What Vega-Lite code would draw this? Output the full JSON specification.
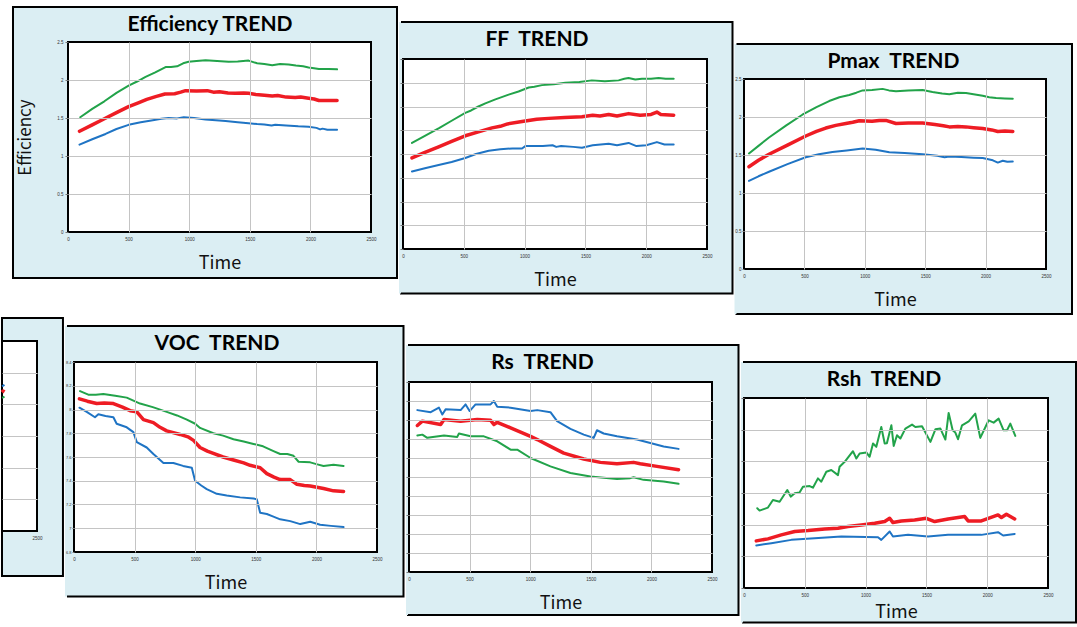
{
"$schema": "https://vega.github.io/schema/vega-lite/v6.json",
"background": "#ffffff",
"padding": 0,
"spacing": 0,
"datasets": {
"eff": [
{"g":"Top","t":101,"v":1.51},{"g":"Top","t":200,"v":1.62},{"g":"Top","t":300,"v":1.72},{"g":"Top","t":400,"v":1.83},{"g":"Top","t":500,"v":1.925},{"g":"Top","t":570,"v":1.98},{"g":"Top","t":640,"v":2.04},{"g":"Top","t":720,"v":2.1},{"g":"Top","t":805,"v":2.17},{"g":"Top","t":850,"v":2.17},{"g":"Top","t":900,"v":2.18},{"g":"Top","t":950,"v":2.22},{"g":"Top","t":995,"v":2.24},{"g":"Top","t":1060,"v":2.25},{"g":"Top","t":1135,"v":2.26},{"g":"Top","t":1230,"v":2.25},{"g":"Top","t":1325,"v":2.24},{"g":"Top","t":1400,"v":2.245},{"g":"Top","t":1490,"v":2.255},{"g":"Top","t":1560,"v":2.22},{"g":"Top","t":1620,"v":2.21},{"g":"Top","t":1685,"v":2.195},{"g":"Top","t":1750,"v":2.21},{"g":"Top","t":1820,"v":2.205},{"g":"Top","t":1880,"v":2.19},{"g":"Top","t":1940,"v":2.18},{"g":"Top","t":1985,"v":2.165},{"g":"Top","t":2030,"v":2.155},{"g":"Top","t":2070,"v":2.145},{"g":"Top","t":2150,"v":2.145},{"g":"Top","t":2220,"v":2.14},
{"g":"Average","t":95,"v":1.325},{"g":"Average","t":200,"v":1.41},{"g":"Average","t":300,"v":1.49},{"g":"Average","t":400,"v":1.57},{"g":"Average","t":500,"v":1.65},{"g":"Average","t":580,"v":1.7},{"g":"Average","t":650,"v":1.745},{"g":"Average","t":730,"v":1.785},{"g":"Average","t":800,"v":1.815},{"g":"Average","t":880,"v":1.82},{"g":"Average","t":930,"v":1.84},{"g":"Average","t":970,"v":1.86},{"g":"Average","t":1060,"v":1.855},{"g":"Average","t":1150,"v":1.86},{"g":"Average","t":1200,"v":1.84},{"g":"Average","t":1250,"v":1.845},{"g":"Average","t":1320,"v":1.83},{"g":"Average","t":1380,"v":1.825},{"g":"Average","t":1450,"v":1.83},{"g":"Average","t":1490,"v":1.825},{"g":"Average","t":1550,"v":1.81},{"g":"Average","t":1620,"v":1.8},{"g":"Average","t":1685,"v":1.79},{"g":"Average","t":1730,"v":1.795},{"g":"Average","t":1800,"v":1.775},{"g":"Average","t":1875,"v":1.77},{"g":"Average","t":1920,"v":1.775},{"g":"Average","t":1985,"v":1.76},{"g":"Average","t":2030,"v":1.75},{"g":"Average","t":2070,"v":1.73},{"g":"Average","t":2150,"v":1.73},{"g":"Average","t":2220,"v":1.73},
{"g":"Bottom","t":95,"v":1.15},{"g":"Bottom","t":200,"v":1.22},{"g":"Bottom","t":310,"v":1.29},{"g":"Bottom","t":400,"v":1.355},{"g":"Bottom","t":500,"v":1.41},{"g":"Bottom","t":600,"v":1.445},{"g":"Bottom","t":700,"v":1.47},{"g":"Bottom","t":770,"v":1.49},{"g":"Bottom","t":830,"v":1.5},{"g":"Bottom","t":900,"v":1.495},{"g":"Bottom","t":955,"v":1.51},{"g":"Bottom","t":1040,"v":1.5},{"g":"Bottom","t":1135,"v":1.48},{"g":"Bottom","t":1220,"v":1.47},{"g":"Bottom","t":1300,"v":1.46},{"g":"Bottom","t":1400,"v":1.445},{"g":"Bottom","t":1490,"v":1.43},{"g":"Bottom","t":1560,"v":1.42},{"g":"Bottom","t":1620,"v":1.415},{"g":"Bottom","t":1680,"v":1.4},{"g":"Bottom","t":1710,"v":1.41},{"g":"Bottom","t":1800,"v":1.4},{"g":"Bottom","t":1900,"v":1.39},{"g":"Bottom","t":1985,"v":1.385},{"g":"Bottom","t":2050,"v":1.37},{"g":"Bottom","t":2080,"v":1.35},{"g":"Bottom","t":2100,"v":1.36},{"g":"Bottom","t":2140,"v":1.345},{"g":"Bottom","t":2220,"v":1.345}
],
"ff": [
{"g":"Top","t":74,"v":73.4},{"g":"Top","t":180,"v":74.3},{"g":"Top","t":300,"v":75.3},{"g":"Top","t":400,"v":76.2},{"g":"Top","t":512,"v":77.2},{"g":"Top","t":560,"v":77.5},{"g":"Top","t":620,"v":78.0},{"g":"Top","t":677,"v":78.4},{"g":"Top","t":760,"v":78.9},{"g":"Top","t":869,"v":79.5},{"g":"Top","t":950,"v":79.9},{"g":"Top","t":1034,"v":80.4},{"g":"Top","t":1080,"v":80.5},{"g":"Top","t":1143,"v":80.7},{"g":"Top","t":1240,"v":80.8},{"g":"Top","t":1335,"v":81.0},{"g":"Top","t":1450,"v":81.1},{"g":"Top","t":1554,"v":81.3},{"g":"Top","t":1660,"v":81.2},{"g":"Top","t":1773,"v":81.3},{"g":"Top","t":1820,"v":81.5},{"g":"Top","t":1855,"v":81.6},{"g":"Top","t":1910,"v":81.4},{"g":"Top","t":1965,"v":81.5},{"g":"Top","t":2040,"v":81.5},{"g":"Top","t":2102,"v":81.6},{"g":"Top","t":2160,"v":81.5},{"g":"Top","t":2226,"v":81.5},
{"g":"Average","t":74,"v":71.5},{"g":"Average","t":180,"v":72.2},{"g":"Average","t":293,"v":72.9},{"g":"Average","t":400,"v":73.6},{"g":"Average","t":512,"v":74.3},{"g":"Average","t":620,"v":74.8},{"g":"Average","t":732,"v":75.3},{"g":"Average","t":800,"v":75.5},{"g":"Average","t":860,"v":75.8},{"g":"Average","t":979,"v":76.1},{"g":"Average","t":1100,"v":76.4},{"g":"Average","t":1198,"v":76.5},{"g":"Average","t":1330,"v":76.6},{"g":"Average","t":1472,"v":76.7},{"g":"Average","t":1560,"v":76.9},{"g":"Average","t":1620,"v":76.8},{"g":"Average","t":1691,"v":77.0},{"g":"Average","t":1760,"v":76.8},{"g":"Average","t":1855,"v":77.1},{"g":"Average","t":1950,"v":76.9},{"g":"Average","t":2040,"v":77.0},{"g":"Average","t":2088,"v":77.3},{"g":"Average","t":2120,"v":77.0},{"g":"Average","t":2226,"v":76.9},
{"g":"Bottom","t":74,"v":69.8},{"g":"Bottom","t":180,"v":70.2},{"g":"Bottom","t":293,"v":70.6},{"g":"Bottom","t":400,"v":71.0},{"g":"Bottom","t":512,"v":71.5},{"g":"Bottom","t":600,"v":72.0},{"g":"Bottom","t":705,"v":72.4},{"g":"Bottom","t":800,"v":72.6},{"g":"Bottom","t":900,"v":72.7},{"g":"Bottom","t":979,"v":72.7},{"g":"Bottom","t":1006,"v":73.0},{"g":"Bottom","t":1150,"v":73.0},{"g":"Bottom","t":1230,"v":73.1},{"g":"Bottom","t":1260,"v":72.9},{"g":"Bottom","t":1300,"v":73.0},{"g":"Bottom","t":1400,"v":72.9},{"g":"Bottom","t":1472,"v":72.8},{"g":"Bottom","t":1560,"v":73.1},{"g":"Bottom","t":1691,"v":73.3},{"g":"Bottom","t":1760,"v":73.1},{"g":"Bottom","t":1855,"v":73.4},{"g":"Bottom","t":1920,"v":73.0},{"g":"Bottom","t":2000,"v":73.1},{"g":"Bottom","t":2088,"v":73.5},{"g":"Bottom","t":2150,"v":73.2},{"g":"Bottom","t":2226,"v":73.2}
],
"pmax": [
{"g":"Top","t":41,"v":1.52},{"g":"Top","t":120,"v":1.62},{"g":"Top","t":207,"v":1.73},{"g":"Top","t":350,"v":1.89},{"g":"Top","t":483,"v":2.03},{"g":"Top","t":600,"v":2.13},{"g":"Top","t":705,"v":2.21},{"g":"Top","t":790,"v":2.26},{"g":"Top","t":871,"v":2.29},{"g":"Top","t":930,"v":2.32},{"g":"Top","t":982,"v":2.35},{"g":"Top","t":1060,"v":2.355},{"g":"Top","t":1147,"v":2.37},{"g":"Top","t":1200,"v":2.35},{"g":"Top","t":1258,"v":2.34},{"g":"Top","t":1360,"v":2.35},{"g":"Top","t":1479,"v":2.355},{"g":"Top","t":1560,"v":2.33},{"g":"Top","t":1640,"v":2.31},{"g":"Top","t":1700,"v":2.3},{"g":"Top","t":1770,"v":2.32},{"g":"Top","t":1838,"v":2.315},{"g":"Top","t":1900,"v":2.3},{"g":"Top","t":1976,"v":2.28},{"g":"Top","t":2030,"v":2.26},{"g":"Top","t":2087,"v":2.25},{"g":"Top","t":2160,"v":2.245},{"g":"Top","t":2225,"v":2.24},
{"g":"Average","t":41,"v":1.346},{"g":"Average","t":120,"v":1.43},{"g":"Average","t":207,"v":1.51},{"g":"Average","t":360,"v":1.63},{"g":"Average","t":511,"v":1.75},{"g":"Average","t":600,"v":1.81},{"g":"Average","t":677,"v":1.855},{"g":"Average","t":760,"v":1.89},{"g":"Average","t":843,"v":1.915},{"g":"Average","t":900,"v":1.93},{"g":"Average","t":954,"v":1.95},{"g":"Average","t":1060,"v":1.945},{"g":"Average","t":1120,"v":1.955},{"g":"Average","t":1175,"v":1.955},{"g":"Average","t":1258,"v":1.915},{"g":"Average","t":1360,"v":1.92},{"g":"Average","t":1479,"v":1.92},{"g":"Average","t":1580,"v":1.9},{"g":"Average","t":1650,"v":1.885},{"g":"Average","t":1700,"v":1.87},{"g":"Average","t":1770,"v":1.875},{"g":"Average","t":1838,"v":1.87},{"g":"Average","t":1900,"v":1.86},{"g":"Average","t":1976,"v":1.85},{"g":"Average","t":2050,"v":1.83},{"g":"Average","t":2101,"v":1.81},{"g":"Average","t":2160,"v":1.815},{"g":"Average","t":2225,"v":1.81},
{"g":"Bottom","t":41,"v":1.16},{"g":"Bottom","t":120,"v":1.22},{"g":"Bottom","t":207,"v":1.28},{"g":"Bottom","t":360,"v":1.38},{"g":"Bottom","t":511,"v":1.47},{"g":"Bottom","t":620,"v":1.51},{"g":"Bottom","t":732,"v":1.54},{"g":"Bottom","t":850,"v":1.56},{"g":"Bottom","t":982,"v":1.585},{"g":"Bottom","t":1090,"v":1.57},{"g":"Bottom","t":1203,"v":1.535},{"g":"Bottom","t":1330,"v":1.525},{"g":"Bottom","t":1479,"v":1.51},{"g":"Bottom","t":1600,"v":1.49},{"g":"Bottom","t":1660,"v":1.47},{"g":"Bottom","t":1700,"v":1.48},{"g":"Bottom","t":1800,"v":1.475},{"g":"Bottom","t":1900,"v":1.465},{"g":"Bottom","t":1976,"v":1.46},{"g":"Bottom","t":2060,"v":1.43},{"g":"Bottom","t":2101,"v":1.4},{"g":"Bottom","t":2142,"v":1.425},{"g":"Bottom","t":2180,"v":1.41},{"g":"Bottom","t":2225,"v":1.415}
],
"voc": [
{"g":"Top","t":50,"v":8.155},{"g":"Top","t":118,"v":8.125},{"g":"Top","t":180,"v":8.125},{"g":"Top","t":242,"v":8.13},{"g":"Top","t":340,"v":8.115},{"g":"Top","t":435,"v":8.1},{"g":"Top","t":545,"v":8.05},{"g":"Top","t":650,"v":8.02},{"g":"Top","t":765,"v":7.98},{"g":"Top","t":850,"v":7.95},{"g":"Top","t":931,"v":7.915},{"g":"Top","t":1000,"v":7.88},{"g":"Top","t":1040,"v":7.845},{"g":"Top","t":1150,"v":7.8},{"g":"Top","t":1230,"v":7.78},{"g":"Top","t":1316,"v":7.75},{"g":"Top","t":1400,"v":7.73},{"g":"Top","t":1481,"v":7.71},{"g":"Top","t":1560,"v":7.69},{"g":"Top","t":1646,"v":7.65},{"g":"Top","t":1701,"v":7.625},{"g":"Top","t":1760,"v":7.625},{"g":"Top","t":1811,"v":7.61},{"g":"Top","t":1853,"v":7.56},{"g":"Top","t":1949,"v":7.555},{"g":"Top","t":2000,"v":7.54},{"g":"Top","t":2059,"v":7.525},{"g":"Top","t":2141,"v":7.535},{"g":"Top","t":2224,"v":7.525},
{"g":"Average","t":45,"v":8.09},{"g":"Average","t":110,"v":8.07},{"g":"Average","t":187,"v":8.05},{"g":"Average","t":250,"v":8.055},{"g":"Average","t":325,"v":8.05},{"g":"Average","t":400,"v":8.02},{"g":"Average","t":463,"v":7.99},{"g":"Average","t":518,"v":7.98},{"g":"Average","t":573,"v":7.915},{"g":"Average","t":655,"v":7.89},{"g":"Average","t":710,"v":7.85},{"g":"Average","t":765,"v":7.82},{"g":"Average","t":876,"v":7.79},{"g":"Average","t":940,"v":7.77},{"g":"Average","t":986,"v":7.74},{"g":"Average","t":1040,"v":7.68},{"g":"Average","t":1100,"v":7.65},{"g":"Average","t":1150,"v":7.63},{"g":"Average","t":1230,"v":7.6},{"g":"Average","t":1316,"v":7.575},{"g":"Average","t":1400,"v":7.55},{"g":"Average","t":1453,"v":7.53},{"g":"Average","t":1536,"v":7.51},{"g":"Average","t":1591,"v":7.46},{"g":"Average","t":1650,"v":7.43},{"g":"Average","t":1701,"v":7.41},{"g":"Average","t":1784,"v":7.41},{"g":"Average","t":1839,"v":7.37},{"g":"Average","t":1900,"v":7.36},{"g":"Average","t":1949,"v":7.355},{"g":"Average","t":2059,"v":7.335},{"g":"Average","t":2141,"v":7.315},{"g":"Average","t":2224,"v":7.31},
{"g":"Bottom","t":45,"v":8.015},{"g":"Bottom","t":105,"v":7.98},{"g":"Bottom","t":173,"v":7.935},{"g":"Bottom","t":201,"v":7.96},{"g":"Bottom","t":260,"v":7.945},{"g":"Bottom","t":325,"v":7.935},{"g":"Bottom","t":352,"v":7.88},{"g":"Bottom","t":435,"v":7.85},{"g":"Bottom","t":490,"v":7.81},{"g":"Bottom","t":518,"v":7.725},{"g":"Bottom","t":600,"v":7.68},{"g":"Bottom","t":655,"v":7.625},{"g":"Bottom","t":738,"v":7.55},{"g":"Bottom","t":820,"v":7.55},{"g":"Bottom","t":900,"v":7.525},{"g":"Bottom","t":972,"v":7.51},{"g":"Bottom","t":999,"v":7.4},{"g":"Bottom","t":1050,"v":7.36},{"g":"Bottom","t":1095,"v":7.33},{"g":"Bottom","t":1178,"v":7.29},{"g":"Bottom","t":1260,"v":7.275},{"g":"Bottom","t":1371,"v":7.26},{"g":"Bottom","t":1481,"v":7.25},{"g":"Bottom","t":1508,"v":7.245},{"g":"Bottom","t":1536,"v":7.13},{"g":"Bottom","t":1591,"v":7.12},{"g":"Bottom","t":1640,"v":7.1},{"g":"Bottom","t":1701,"v":7.075},{"g":"Bottom","t":1784,"v":7.06},{"g":"Bottom","t":1867,"v":7.035},{"g":"Bottom","t":1949,"v":7.055},{"g":"Bottom","t":2031,"v":7.03},{"g":"Bottom","t":2120,"v":7.02},{"g":"Bottom","t":2224,"v":7.01}
],
"rs": [
{"g":"Bottom","t":69,"v":8.52},{"g":"Bottom","t":179,"v":8.41},{"g":"Bottom","t":247,"v":8.65},{"g":"Bottom","t":275,"v":8.29},{"g":"Bottom","t":302,"v":8.56},{"g":"Bottom","t":426,"v":8.52},{"g":"Bottom","t":467,"v":8.82},{"g":"Bottom","t":500,"v":8.47},{"g":"Bottom","t":549,"v":8.82},{"g":"Bottom","t":673,"v":8.82},{"g":"Bottom","t":700,"v":9.0},{"g":"Bottom","t":728,"v":8.7},{"g":"Bottom","t":838,"v":8.65},{"g":"Bottom","t":1003,"v":8.47},{"g":"Bottom","t":1058,"v":8.52},{"g":"Bottom","t":1167,"v":8.41},{"g":"Bottom","t":1222,"v":7.94},{"g":"Bottom","t":1332,"v":7.53},{"g":"Bottom","t":1442,"v":7.23},{"g":"Bottom","t":1524,"v":7.06},{"g":"Bottom","t":1551,"v":7.46},{"g":"Bottom","t":1606,"v":7.29},{"g":"Bottom","t":1716,"v":7.14},{"g":"Bottom","t":1881,"v":6.97},{"g":"Bottom","t":1991,"v":6.79},{"g":"Bottom","t":2101,"v":6.61},{"g":"Bottom","t":2224,"v":6.48},
{"g":"Average","t":69,"v":7.71},{"g":"Average","t":110,"v":7.94},{"g":"Average","t":261,"v":7.76},{"g":"Average","t":289,"v":8.03},{"g":"Average","t":426,"v":7.94},{"g":"Average","t":563,"v":8.03},{"g":"Average","t":673,"v":7.99},{"g":"Average","t":700,"v":7.76},{"g":"Average","t":728,"v":7.88},{"g":"Average","t":838,"v":7.59},{"g":"Average","t":1003,"v":7.14},{"g":"Average","t":1058,"v":6.97},{"g":"Average","t":1167,"v":6.61},{"g":"Average","t":1277,"v":6.26},{"g":"Average","t":1442,"v":5.95},{"g":"Average","t":1579,"v":5.77},{"g":"Average","t":1716,"v":5.7},{"g":"Average","t":1853,"v":5.77},{"g":"Average","t":1908,"v":5.7},{"g":"Average","t":2046,"v":5.56},{"g":"Average","t":2224,"v":5.38},
{"g":"Top","t":69,"v":7.18},{"g":"Top","t":110,"v":7.23},{"g":"Top","t":151,"v":7.06},{"g":"Top","t":289,"v":7.18},{"g":"Top","t":398,"v":7.11},{"g":"Top","t":412,"v":7.29},{"g":"Top","t":508,"v":7.14},{"g":"Top","t":618,"v":7.14},{"g":"Top","t":728,"v":6.88},{"g":"Top","t":838,"v":6.44},{"g":"Top","t":893,"v":6.44},{"g":"Top","t":1003,"v":6.0},{"g":"Top","t":1167,"v":5.56},{"g":"Top","t":1332,"v":5.21},{"g":"Top","t":1497,"v":5.03},{"g":"Top","t":1716,"v":4.89},{"g":"Top","t":1826,"v":4.94},{"g":"Top","t":1853,"v":4.99},{"g":"Top","t":1935,"v":4.85},{"g":"Top","t":2101,"v":4.76},{"g":"Top","t":2224,"v":4.64}
],
"rsh": [
{"g":"Top","t":109,"v":1258},{"g":"Top","t":128,"v":1222},{"g":"Top","t":197,"v":1270},{"g":"Top","t":238,"v":1389},{"g":"Top","t":293,"v":1363},{"g":"Top","t":356,"v":1547},{"g":"Top","t":384,"v":1443},{"g":"Top","t":417,"v":1495},{"g":"Top","t":458,"v":1510},{"g":"Top","t":485,"v":1600},{"g":"Top","t":540,"v":1610},{"g":"Top","t":567,"v":1584},{"g":"Top","t":608,"v":1731},{"g":"Top","t":636,"v":1679},{"g":"Top","t":677,"v":1836},{"g":"Top","t":718,"v":1862},{"g":"Top","t":773,"v":1783},{"g":"Top","t":786,"v":1914},{"g":"Top","t":828,"v":1993},{"g":"Top","t":896,"v":2160},{"g":"Top","t":924,"v":2045},{"g":"Top","t":951,"v":2124},{"g":"Top","t":1006,"v":2140},{"g":"Top","t":1033,"v":2072},{"g":"Top","t":1061,"v":2281},{"g":"Top","t":1088,"v":2229},{"g":"Top","t":1129,"v":2543},{"g":"Top","t":1157,"v":2281},{"g":"Top","t":1175,"v":2285},{"g":"Top","t":1212,"v":2569},{"g":"Top","t":1231,"v":2244},{"g":"Top","t":1258,"v":2412},{"g":"Top","t":1286,"v":2360},{"g":"Top","t":1327,"v":2517},{"g":"Top","t":1382,"v":2580},{"g":"Top","t":1409,"v":2543},{"g":"Top","t":1464,"v":2553},{"g":"Top","t":1533,"v":2307},{"g":"Top","t":1574,"v":2506},{"g":"Top","t":1615,"v":2517},{"g":"Top","t":1656,"v":2344},{"g":"Top","t":1683,"v":2764},{"g":"Top","t":1716,"v":2490},{"g":"Top","t":1738,"v":2454},{"g":"Top","t":1760,"v":2349},{"g":"Top","t":1793,"v":2569},{"g":"Top","t":1848,"v":2632},{"g":"Top","t":1902,"v":2753},{"g":"Top","t":1943,"v":2370},{"g":"Top","t":2012,"v":2648},{"g":"Top","t":2053,"v":2611},{"g":"Top","t":2094,"v":2674},{"g":"Top","t":2135,"v":2490},{"g":"Top","t":2163,"v":2490},{"g":"Top","t":2190,"v":2596},{"g":"Top","t":2231,"v":2401},
{"g":"Average","t":101,"v":744},{"g":"Average","t":197,"v":776},{"g":"Average","t":307,"v":839},{"g":"Average","t":417,"v":892},{"g":"Average","t":527,"v":907},{"g":"Average","t":664,"v":933},{"g":"Average","t":773,"v":944},{"g":"Average","t":855,"v":970},{"g":"Average","t":965,"v":996},{"g":"Average","t":1075,"v":1022},{"g":"Average","t":1157,"v":1049},{"g":"Average","t":1198,"v":1101},{"g":"Average","t":1225,"v":1033},{"g":"Average","t":1294,"v":1059},{"g":"Average","t":1403,"v":1075},{"g":"Average","t":1499,"v":1101},{"g":"Average","t":1568,"v":1049},{"g":"Average","t":1678,"v":1090},{"g":"Average","t":1815,"v":1128},{"g":"Average","t":1843,"v":1059},{"g":"Average","t":1952,"v":1059},{"g":"Average","t":2089,"v":1153},{"g":"Average","t":2117,"v":1112},{"g":"Average","t":2158,"v":1164},{"g":"Average","t":2226,"v":1090},
{"g":"Bottom","t":101,"v":672},{"g":"Bottom","t":225,"v":708},{"g":"Bottom","t":389,"v":760},{"g":"Bottom","t":581,"v":787},{"g":"Bottom","t":800,"v":813},{"g":"Bottom","t":1102,"v":802},{"g":"Bottom","t":1129,"v":760},{"g":"Bottom","t":1198,"v":892},{"g":"Bottom","t":1225,"v":813},{"g":"Bottom","t":1349,"v":839},{"g":"Bottom","t":1513,"v":813},{"g":"Bottom","t":1678,"v":839},{"g":"Bottom","t":1952,"v":839},{"g":"Bottom","t":2089,"v":881},{"g":"Bottom","t":2131,"v":829},{"g":"Bottom","t":2226,"v":854}
],
"part": [
{"g":"Bottom","t":2212,"v":4.57},{"g":"Bottom","t":2222,"v":4.59},{"g":"Bottom","t":2232,"v":4.62},
{"g":"Average","t":2212,"v":4.38},{"g":"Average","t":2222,"v":4.42},{"g":"Average","t":2232,"v":4.39},
{"g":"Top","t":2212,"v":4.21},{"g":"Top","t":2222,"v":4.22},{"g":"Top","t":2232,"v":4.25}
]
},
"vconcat": [
{"spacing": 0, "hconcat": [
 {"width": 9, "height": 1, "data": {"values": []}, "mark": "point"},
 {"spacing": 0, "vconcat": [
  {"width": 1, "height": 6, "data": {"values": []}, "mark": "point"},
  {"width": 303, "height": 190, "title": {"text": "Efficiency TREND", "dx": -9.5},
   "layer": [
    {"data": {"values": [{"part": "card"}]}, "mark": {"type": "rect", "fill": "#dbeef3", "stroke": "#000000", "strokeWidth": 2},
     "encoding": {"x": {"datum": -453.8, "type": "quantitative", "scale": {"domain": [0, 2500], "nice": false, "zero": false}, "title": "Time", "axis": {"zindex": 1, "values": [0, 500, 1000, 1500, 2000, 2500], "format": "~r", "labelOverlap": false, "gridColor": {"condition": {"test": "datum.value==0||datum.value==2500", "value": "transparent"}, "value": "#c4c4c4"}}}, "x2": {"datum": 2714.5},
      "y": {"datum": 2.9605, "type": "quantitative", "scale": {"domain": [0, 2.5], "nice": false, "zero": false}, "title": "Efficiency", "axis": {"zindex": 1, "values": [0, 0.5, 1, 1.5, 2, 2.5], "format": "~r", "labelOverlap": false, "titleFontSize": 17, "titlePadding": 22, "gridColor": {"condition": {"test": "datum.value==0||datum.value==2.5", "value": "transparent"}, "value": "#c4c4c4"}}}, "y2": {"datum": -0.6053}}},
    {"data": {"values": [{"part": "plot"}]}, "mark": {"type": "rect", "fill": "#ffffff", "stroke": "#000000", "strokeWidth": 2},
     "encoding": {"x": {"datum": 0, "type": "quantitative", "scale": {"domain": [0, 2500], "nice": false, "zero": false}, "title": "Time", "axis": {"zindex": 1, "values": [0, 500, 1000, 1500, 2000, 2500], "format": "~r", "labelOverlap": false, "gridColor": {"condition": {"test": "datum.value==0||datum.value==2500", "value": "transparent"}, "value": "#c4c4c4"}}}, "x2": {"datum": 2500},
      "y": {"datum": 2.5, "type": "quantitative", "scale": {"domain": [0, 2.5], "nice": false, "zero": false}, "title": "Efficiency", "axis": {"zindex": 1, "values": [0, 0.5, 1, 1.5, 2, 2.5], "format": "~r", "labelOverlap": false, "titleFontSize": 17, "titlePadding": 22, "gridColor": {"condition": {"test": "datum.value==0||datum.value==2.5", "value": "transparent"}, "value": "#c4c4c4"}}}, "y2": {"datum": 0}}},
    {"data": {"name": "eff"}, "mark": {"type": "line"},
     "encoding": {
      "x": {"field": "t", "type": "quantitative", "scale": {"domain": [0, 2500], "nice": false, "zero": false}, "title": "Time", "axis": {"zindex": 1, "values": [0, 500, 1000, 1500, 2000, 2500], "format": "~r", "labelOverlap": false, "gridColor": {"condition": {"test": "datum.value==0||datum.value==2500", "value": "transparent"}, "value": "#c4c4c4"}}},
      "y": {"field": "v", "type": "quantitative", "scale": {"domain": [0, 2.5], "nice": false, "zero": false}, "title": "Efficiency", "axis": {"zindex": 1, "values": [0, 0.5, 1, 1.5, 2, 2.5], "format": "~r", "labelOverlap": false, "titleFontSize": 17, "titlePadding": 22, "gridColor": {"condition": {"test": "datum.value==0||datum.value==2.5", "value": "transparent"}, "value": "#c4c4c4"}}},
      "color": {"field": "g", "type": "nominal", "scale": {"domain": ["Top", "Average", "Bottom"], "range": ["#22a34a", "#ee1c24", "#1f74c4"]}, "legend": null},
      "strokeWidth": {"field": "g", "type": "nominal", "scale": {"type": "ordinal", "domain": ["Top", "Average", "Bottom"], "range": [2, 3.5, 2]}, "legend": null}}}
   ]}
 ]},
 {"spacing": 0, "vconcat": [
  {"width": 1, "height": 20, "data": {"values": []}, "mark": "point"},
  {"width": 304, "height": 190, "title": {"text": "FF\u00a0 TREND", "dx": -18},
   "layer": [
    {"data": {"values": [{"part": "card"}]}, "mark": {"type": "rect", "fill": "#dbeef3"},
     "encoding": {"x": {"datum": -32.9, "type": "quantitative", "scale": {"domain": [0, 2500], "nice": false, "zero": false}, "title": "Time", "axis": {"zindex": 1, "values": [0, 500, 1000, 1500, 2000, 2500], "format": "~r", "labelOverlap": false, "gridColor": {"condition": {"test": "datum.value==0||datum.value==2500", "value": "transparent"}, "value": "#c4c4c4"}}}, "x2": {"datum": 2709.7},
      "y": {"datum": 88.674, "type": "quantitative", "scale": {"domain": [60, 84], "nice": false, "zero": false}, "title": null, "axis": {"zindex": 1, "values": [60, 63, 66, 69, 72, 75, 78, 81, 84], "labels": false, "gridColor": {"condition": {"test": "datum.value==60||datum.value==84", "value": "transparent"}, "value": "#c4c4c4"}}}, "y2": {"datum": 54.379}}},
    {"data": {"values": [{"part": "border"}]}, "mark": {"type": "rect", "fill": null, "stroke": "#000000", "strokeWidth": 2, "strokeDash": [934.5, 400]},
     "encoding": {"x": {"datum": -16.4, "type": "quantitative", "scale": {"domain": [0, 2500], "nice": false, "zero": false}, "title": "Time", "axis": {"zindex": 1, "values": [0, 500, 1000, 1500, 2000, 2500], "format": "~r", "labelOverlap": false, "gridColor": {"condition": {"test": "datum.value==0||datum.value==2500", "value": "transparent"}, "value": "#c4c4c4"}}}, "x2": {"datum": 2709.7},
      "y": {"datum": 88.674, "type": "quantitative", "scale": {"domain": [60, 84], "nice": false, "zero": false}, "title": null, "axis": {"zindex": 1, "values": [60, 63, 66, 69, 72, 75, 78, 81, 84], "labels": false, "gridColor": {"condition": {"test": "datum.value==60||datum.value==84", "value": "transparent"}, "value": "#c4c4c4"}}}, "y2": {"datum": 54.379}}},
    {"data": {"values": [{"part": "plot"}]}, "mark": {"type": "rect", "fill": "#ffffff", "stroke": "#000000", "strokeWidth": 2},
     "encoding": {"x": {"datum": 0, "type": "quantitative", "scale": {"domain": [0, 2500], "nice": false, "zero": false}, "title": "Time", "axis": {"zindex": 1, "values": [0, 500, 1000, 1500, 2000, 2500], "format": "~r", "labelOverlap": false, "gridColor": {"condition": {"test": "datum.value==0||datum.value==2500", "value": "transparent"}, "value": "#c4c4c4"}}}, "x2": {"datum": 2500},
      "y": {"datum": 84, "type": "quantitative", "scale": {"domain": [60, 84], "nice": false, "zero": false}, "title": null, "axis": {"zindex": 1, "values": [60, 63, 66, 69, 72, 75, 78, 81, 84], "labels": false, "gridColor": {"condition": {"test": "datum.value==60||datum.value==84", "value": "transparent"}, "value": "#c4c4c4"}}}, "y2": {"datum": 60}}},
    {"data": {"name": "ff"}, "mark": {"type": "line"},
     "encoding": {
      "x": {"field": "t", "type": "quantitative", "scale": {"domain": [0, 2500], "nice": false, "zero": false}, "title": "Time", "axis": {"zindex": 1, "values": [0, 500, 1000, 1500, 2000, 2500], "format": "~r", "labelOverlap": false, "gridColor": {"condition": {"test": "datum.value==0||datum.value==2500", "value": "transparent"}, "value": "#c4c4c4"}}},
      "y": {"field": "v", "type": "quantitative", "scale": {"domain": [60, 84], "nice": false, "zero": false}, "title": null, "axis": {"zindex": 1, "values": [60, 63, 66, 69, 72, 75, 78, 81, 84], "labels": false, "gridColor": {"condition": {"test": "datum.value==60||datum.value==84", "value": "transparent"}, "value": "#c4c4c4"}}},
      "color": {"field": "g", "type": "nominal", "scale": {"domain": ["Top", "Average", "Bottom"], "range": ["#22a34a", "#ee1c24", "#1f74c4"]}, "legend": null},
      "strokeWidth": {"field": "g", "type": "nominal", "scale": {"type": "ordinal", "domain": ["Top", "Average", "Bottom"], "range": [2, 3.5, 2]}, "legend": null}}}
   ]}
 ]},
 {"spacing": 0, "vconcat": [
  {"width": 1, "height": 43, "data": {"values": []}, "mark": "point"},
  {"width": 302, "height": 190, "title": {"text": "Pmax\u00a0 TREND", "dx": -1.5},
   "layer": [
    {"data": {"values": [{"part": "card"}]}, "mark": {"type": "rect", "fill": "#dbeef3"},
     "encoding": {"x": {"datum": -78.6, "type": "quantitative", "scale": {"domain": [0, 2500], "nice": false, "zero": false}, "title": "Time", "axis": {"zindex": 1, "values": [0, 500, 1000, 1500, 2000, 2500], "format": "~r", "labelOverlap": false, "gridColor": {"condition": {"test": "datum.value==0||datum.value==2500", "value": "transparent"}, "value": "#c4c4c4"}}}, "x2": {"datum": 2715.2},
      "y": {"datum": 2.9605, "type": "quantitative", "scale": {"domain": [0, 2.5], "nice": false, "zero": false}, "title": null, "axis": {"zindex": 1, "values": [0, 0.5, 1, 1.5, 2, 2.5], "format": "~r", "labelOverlap": false, "tickSize": 2, "labelPadding": 1, "gridColor": {"condition": {"test": "datum.value==0||datum.value==2.5", "value": "transparent"}, "value": "#c4c4c4"}}}, "y2": {"datum": -0.5921}}},
    {"data": {"values": [{"part": "border"}]}, "mark": {"type": "rect", "fill": null, "stroke": "#000000", "strokeWidth": 2, "strokeDash": [941, 400]},
     "encoding": {"x": {"datum": -62.1, "type": "quantitative", "scale": {"domain": [0, 2500], "nice": false, "zero": false}, "title": "Time", "axis": {"zindex": 1, "values": [0, 500, 1000, 1500, 2000, 2500], "format": "~r", "labelOverlap": false, "gridColor": {"condition": {"test": "datum.value==0||datum.value==2500", "value": "transparent"}, "value": "#c4c4c4"}}}, "x2": {"datum": 2715.2},
      "y": {"datum": 2.9605, "type": "quantitative", "scale": {"domain": [0, 2.5], "nice": false, "zero": false}, "title": null, "axis": {"zindex": 1, "values": [0, 0.5, 1, 1.5, 2, 2.5], "format": "~r", "labelOverlap": false, "tickSize": 2, "labelPadding": 1, "gridColor": {"condition": {"test": "datum.value==0||datum.value==2.5", "value": "transparent"}, "value": "#c4c4c4"}}}, "y2": {"datum": -0.5921}}},
    {"data": {"values": [{"part": "plot"}]}, "mark": {"type": "rect", "fill": "#ffffff", "stroke": "#000000", "strokeWidth": 2},
     "encoding": {"x": {"datum": 0, "type": "quantitative", "scale": {"domain": [0, 2500], "nice": false, "zero": false}, "title": "Time", "axis": {"zindex": 1, "values": [0, 500, 1000, 1500, 2000, 2500], "format": "~r", "labelOverlap": false, "gridColor": {"condition": {"test": "datum.value==0||datum.value==2500", "value": "transparent"}, "value": "#c4c4c4"}}}, "x2": {"datum": 2500},
      "y": {"datum": 2.5, "type": "quantitative", "scale": {"domain": [0, 2.5], "nice": false, "zero": false}, "title": null, "axis": {"zindex": 1, "values": [0, 0.5, 1, 1.5, 2, 2.5], "format": "~r", "labelOverlap": false, "tickSize": 2, "labelPadding": 1, "gridColor": {"condition": {"test": "datum.value==0||datum.value==2.5", "value": "transparent"}, "value": "#c4c4c4"}}}, "y2": {"datum": 0}}},
    {"data": {"name": "pmax"}, "mark": {"type": "line"},
     "encoding": {
      "x": {"field": "t", "type": "quantitative", "scale": {"domain": [0, 2500], "nice": false, "zero": false}, "title": "Time", "axis": {"zindex": 1, "values": [0, 500, 1000, 1500, 2000, 2500], "format": "~r", "labelOverlap": false, "gridColor": {"condition": {"test": "datum.value==0||datum.value==2500", "value": "transparent"}, "value": "#c4c4c4"}}},
      "y": {"field": "v", "type": "quantitative", "scale": {"domain": [0, 2.5], "nice": false, "zero": false}, "title": null, "axis": {"zindex": 1, "values": [0, 0.5, 1, 1.5, 2, 2.5], "format": "~r", "labelOverlap": false, "tickSize": 2, "labelPadding": 1, "gridColor": {"condition": {"test": "datum.value==0||datum.value==2.5", "value": "transparent"}, "value": "#c4c4c4"}}},
      "color": {"field": "g", "type": "nominal", "scale": {"domain": ["Top", "Average", "Bottom"], "range": ["#22a34a", "#ee1c24", "#1f74c4"]}, "legend": null},
      "strokeWidth": {"field": "g", "type": "nominal", "scale": {"type": "ordinal", "domain": ["Top", "Average", "Bottom"], "range": [2, 3.5, 2]}, "legend": null}}}
   ]}
 ]}
]},
{"spacing": 0, "hconcat": [
 {"spacing": 0, "vconcat": [
 {"width": 1, "height": 1, "data": {"values": []}, "mark": "point"},
 {"width": 35, "height": 190,
  "layer": [
   {"data": {"values": [{"part": "card"}]}, "mark": {"type": "rect", "fill": "#dbeef3", "stroke": "#000000", "strokeWidth": 2},
    "encoding": {"x": {"datum": 2212, "type": "quantitative", "scale": {"domain": [2212, 2500], "nice": false, "zero": false}, "title": null, "axis": {"zindex": 1, "values": [2500], "format": "~r", "gridColor": "transparent"}}, "x2": {"datum": 2713.6},
     "y": {"datum": 6.727, "type": "quantitative", "scale": {"domain": [0, 6], "nice": false, "zero": false}, "title": null, "axis": {"zindex": 1, "values": [0, 1, 2, 3, 4, 5, 6], "labels": false, "ticks": false, "gridColor": {"condition": {"test": "datum.value==0||datum.value==6", "value": "transparent"}, "value": "#c4c4c4"}}}, "y2": {"datum": -1.421}}},
   {"data": {"values": [{"part": "plot"}]}, "mark": {"type": "rect", "fill": "#ffffff", "stroke": "#000000", "strokeWidth": 2},
    "encoding": {"x": {"datum": 2212, "type": "quantitative", "scale": {"domain": [2212, 2500], "nice": false, "zero": false}, "title": null, "axis": {"zindex": 1, "values": [2500], "format": "~r", "gridColor": "transparent"}}, "x2": {"datum": 2500},
     "y": {"datum": 6, "type": "quantitative", "scale": {"domain": [0, 6], "nice": false, "zero": false}, "title": null, "axis": {"zindex": 1, "values": [0, 1, 2, 3, 4, 5, 6], "labels": false, "ticks": false, "gridColor": {"condition": {"test": "datum.value==0||datum.value==6", "value": "transparent"}, "value": "#c4c4c4"}}}, "y2": {"datum": 0}}},
   {"data": {"name": "part"}, "mark": {"type": "line", "strokeCap": "butt"},
    "encoding": {
     "x": {"field": "t", "type": "quantitative", "scale": {"domain": [2212, 2500], "nice": false, "zero": false}, "title": null, "axis": {"zindex": 1, "values": [2500], "format": "~r", "gridColor": "transparent"}},
     "y": {"field": "v", "type": "quantitative", "scale": {"domain": [0, 6], "nice": false, "zero": false}, "title": null, "axis": {"zindex": 1, "values": [0, 1, 2, 3, 4, 5, 6], "labels": false, "ticks": false, "gridColor": {"condition": {"test": "datum.value==0||datum.value==6", "value": "transparent"}, "value": "#c4c4c4"}}},
     "color": {"field": "g", "type": "nominal", "scale": {"domain": ["Top", "Average", "Bottom"], "range": ["#22a34a", "#ee1c24", "#1f74c4"]}, "legend": null},
     "strokeWidth": {"field": "g", "type": "nominal", "scale": {"type": "ordinal", "domain": ["Top", "Average", "Bottom"], "range": [2, 3.5, 2]}, "legend": null}}}
  ]}
 ]},
 {"spacing": 0, "vconcat": [
  {"width": 1, "height": 9, "data": {"values": []}, "mark": "point"},
  {"width": 303, "height": 190, "title": {"text": "VOC\u00a0 TREND", "dx": -8.5},
   "layer": [
    {"data": {"values": [{"part": "card"}]}, "mark": {"type": "rect", "fill": "#dbeef3"},
     "encoding": {"x": {"datum": -74.3, "type": "quantitative", "scale": {"domain": [0, 2500], "nice": false, "zero": false}, "title": "Time", "axis": {"zindex": 1, "values": [0, 500, 1000, 1500, 2000, 2500], "format": "~r", "labelOverlap": false, "gridColor": {"condition": {"test": "datum.value==0||datum.value==2500", "value": "transparent"}, "value": "#c4c4c4"}}}, "x2": {"datum": 2718.6},
      "y": {"datum": 8.7032, "type": "quantitative", "scale": {"domain": [6.8, 8.4], "nice": false, "zero": false}, "title": null, "axis": {"zindex": 1, "values": [6.8, 7, 7.2, 7.4, 7.6, 7.8, 8, 8.2, 8.4], "format": "~r", "labelOverlap": false, "labelFontSize": 4, "tickSize": 2, "labelPadding": 1, "gridColor": {"condition": {"test": "datum.value==6.8||datum.value==8.4", "value": "transparent"}, "value": "#c4c4c4"}}}, "y2": {"datum": 6.4253}}},
    {"data": {"values": [{"part": "border"}]}, "mark": {"type": "rect", "fill": null, "stroke": "#000000", "strokeWidth": 2, "strokeDash": [943.5, 400]},
     "encoding": {"x": {"datum": -57.8, "type": "quantitative", "scale": {"domain": [0, 2500], "nice": false, "zero": false}, "title": "Time", "axis": {"zindex": 1, "values": [0, 500, 1000, 1500, 2000, 2500], "format": "~r", "labelOverlap": false, "gridColor": {"condition": {"test": "datum.value==0||datum.value==2500", "value": "transparent"}, "value": "#c4c4c4"}}}, "x2": {"datum": 2718.6},
      "y": {"datum": 8.7032, "type": "quantitative", "scale": {"domain": [6.8, 8.4], "nice": false, "zero": false}, "title": null, "axis": {"zindex": 1, "values": [6.8, 7, 7.2, 7.4, 7.6, 7.8, 8, 8.2, 8.4], "format": "~r", "labelOverlap": false, "labelFontSize": 4, "tickSize": 2, "labelPadding": 1, "gridColor": {"condition": {"test": "datum.value==6.8||datum.value==8.4", "value": "transparent"}, "value": "#c4c4c4"}}}, "y2": {"datum": 6.4253}}},
    {"data": {"values": [{"part": "plot"}]}, "mark": {"type": "rect", "fill": "#ffffff", "stroke": "#000000", "strokeWidth": 2},
     "encoding": {"x": {"datum": 0, "type": "quantitative", "scale": {"domain": [0, 2500], "nice": false, "zero": false}, "title": "Time", "axis": {"zindex": 1, "values": [0, 500, 1000, 1500, 2000, 2500], "format": "~r", "labelOverlap": false, "gridColor": {"condition": {"test": "datum.value==0||datum.value==2500", "value": "transparent"}, "value": "#c4c4c4"}}}, "x2": {"datum": 2500},
      "y": {"datum": 8.4, "type": "quantitative", "scale": {"domain": [6.8, 8.4], "nice": false, "zero": false}, "title": null, "axis": {"zindex": 1, "values": [6.8, 7, 7.2, 7.4, 7.6, 7.8, 8, 8.2, 8.4], "format": "~r", "labelOverlap": false, "labelFontSize": 4, "tickSize": 2, "labelPadding": 1, "gridColor": {"condition": {"test": "datum.value==6.8||datum.value==8.4", "value": "transparent"}, "value": "#c4c4c4"}}}, "y2": {"datum": 6.8}}},
    {"data": {"name": "voc"}, "mark": {"type": "line"},
     "encoding": {
      "x": {"field": "t", "type": "quantitative", "scale": {"domain": [0, 2500], "nice": false, "zero": false}, "title": "Time", "axis": {"zindex": 1, "values": [0, 500, 1000, 1500, 2000, 2500], "format": "~r", "labelOverlap": false, "gridColor": {"condition": {"test": "datum.value==0||datum.value==2500", "value": "transparent"}, "value": "#c4c4c4"}}},
      "y": {"field": "v", "type": "quantitative", "scale": {"domain": [6.8, 8.4], "nice": false, "zero": false}, "title": null, "axis": {"zindex": 1, "values": [6.8, 7, 7.2, 7.4, 7.6, 7.8, 8, 8.2, 8.4], "format": "~r", "labelOverlap": false, "labelFontSize": 4, "tickSize": 2, "labelPadding": 1, "gridColor": {"condition": {"test": "datum.value==6.8||datum.value==8.4", "value": "transparent"}, "value": "#c4c4c4"}}},
      "color": {"field": "g", "type": "nominal", "scale": {"domain": ["Top", "Average", "Bottom"], "range": ["#22a34a", "#ee1c24", "#1f74c4"]}, "legend": null},
      "strokeWidth": {"field": "g", "type": "nominal", "scale": {"type": "ordinal", "domain": ["Top", "Average", "Bottom"], "range": [2, 3.5, 2]}, "legend": null}}}
   ]}
 ]},
 {"spacing": 0, "vconcat": [
  {"width": 1, "height": 29, "data": {"values": []}, "mark": "point"},
  {"width": 303, "height": 190, "title": {"text": "Rs\u00a0 TREND", "dx": -18},
   "layer": [
    {"data": {"values": [{"part": "card"}]}, "mark": {"type": "rect", "fill": "#dbeef3"},
     "encoding": {"x": {"datum": -24.75, "type": "quantitative", "scale": {"domain": [0, 2500], "nice": false, "zero": false}, "title": "Time", "axis": {"zindex": 1, "values": [0, 500, 1000, 1500, 2000, 2500], "format": "~r", "labelOverlap": false, "gridColor": {"condition": {"test": "datum.value==0||datum.value==2500", "value": "transparent"}, "value": "#c4c4c4"}}}, "x2": {"datum": 2718.6},
      "y": {"datum": 11.947, "type": "quantitative", "scale": {"domain": [0, 10], "nice": false, "zero": false}, "title": null, "axis": {"zindex": 1, "values": [0, 1, 2, 3, 4, 5, 6, 7, 8, 9, 10], "labels": false, "gridColor": {"condition": {"test": "datum.value==0||datum.value==10", "value": "transparent"}, "value": "#c4c4c4"}}}, "y2": {"datum": -2.263}}},
    {"data": {"values": [{"part": "border"}]}, "mark": {"type": "rect", "fill": null, "stroke": "#000000", "strokeWidth": 2, "strokeDash": [931, 400]},
     "encoding": {"x": {"datum": -8.25, "type": "quantitative", "scale": {"domain": [0, 2500], "nice": false, "zero": false}, "title": "Time", "axis": {"zindex": 1, "values": [0, 500, 1000, 1500, 2000, 2500], "format": "~r", "labelOverlap": false, "gridColor": {"condition": {"test": "datum.value==0||datum.value==2500", "value": "transparent"}, "value": "#c4c4c4"}}}, "x2": {"datum": 2718.6},
      "y": {"datum": 11.947, "type": "quantitative", "scale": {"domain": [0, 10], "nice": false, "zero": false}, "title": null, "axis": {"zindex": 1, "values": [0, 1, 2, 3, 4, 5, 6, 7, 8, 9, 10], "labels": false, "gridColor": {"condition": {"test": "datum.value==0||datum.value==10", "value": "transparent"}, "value": "#c4c4c4"}}}, "y2": {"datum": -2.263}}},
    {"data": {"values": [{"part": "plot"}]}, "mark": {"type": "rect", "fill": "#ffffff", "stroke": "#000000", "strokeWidth": 2},
     "encoding": {"x": {"datum": 0, "type": "quantitative", "scale": {"domain": [0, 2500], "nice": false, "zero": false}, "title": "Time", "axis": {"zindex": 1, "values": [0, 500, 1000, 1500, 2000, 2500], "format": "~r", "labelOverlap": false, "gridColor": {"condition": {"test": "datum.value==0||datum.value==2500", "value": "transparent"}, "value": "#c4c4c4"}}}, "x2": {"datum": 2500},
      "y": {"datum": 10, "type": "quantitative", "scale": {"domain": [0, 10], "nice": false, "zero": false}, "title": null, "axis": {"zindex": 1, "values": [0, 1, 2, 3, 4, 5, 6, 7, 8, 9, 10], "labels": false, "gridColor": {"condition": {"test": "datum.value==0||datum.value==10", "value": "transparent"}, "value": "#c4c4c4"}}}, "y2": {"datum": 0}}},
    {"data": {"name": "rs"}, "mark": {"type": "line"},
     "encoding": {
      "x": {"field": "t", "type": "quantitative", "scale": {"domain": [0, 2500], "nice": false, "zero": false}, "title": "Time", "axis": {"zindex": 1, "values": [0, 500, 1000, 1500, 2000, 2500], "format": "~r", "labelOverlap": false, "gridColor": {"condition": {"test": "datum.value==0||datum.value==2500", "value": "transparent"}, "value": "#c4c4c4"}}},
      "y": {"field": "v", "type": "quantitative", "scale": {"domain": [0, 10], "nice": false, "zero": false}, "title": null, "axis": {"zindex": 1, "values": [0, 1, 2, 3, 4, 5, 6, 7, 8, 9, 10], "labels": false, "gridColor": {"condition": {"test": "datum.value==0||datum.value==10", "value": "transparent"}, "value": "#c4c4c4"}}},
      "color": {"field": "g", "type": "nominal", "scale": {"domain": ["Top", "Average", "Bottom"], "range": ["#22a34a", "#ee1c24", "#1f74c4"]}, "legend": null},
      "strokeWidth": {"field": "g", "type": "nominal", "scale": {"type": "ordinal", "domain": ["Top", "Average", "Bottom"], "range": [2, 3.5, 2]}, "legend": null}}}
   ]}
 ]},
 {"spacing": 0, "vconcat": [
  {"width": 1, "height": 46, "data": {"values": []}, "mark": "point"},
  {"width": 304, "height": 190, "title": {"text": "Rsh\u00a0 TREND", "dx": -12},
   "layer": [
    {"data": {"values": [{"part": "card"}]}, "mark": {"type": "rect", "fill": "#dbeef3"},
     "encoding": {"x": {"datum": -24.7, "type": "quantitative", "scale": {"domain": [0, 2500], "nice": false, "zero": false}, "title": "Time", "axis": {"zindex": 1, "values": [0, 500, 1000, 1500, 2000, 2500], "format": "~r", "labelOverlap": false, "titlePadding": 7, "gridColor": {"condition": {"test": "datum.value==0||datum.value==2500", "value": "transparent"}, "value": "#c4c4c4"}}}, "x2": {"datum": 2730.3},
      "y": {"datum": 3568.4, "type": "quantitative", "scale": {"domain": [0, 3000], "nice": false, "zero": false}, "title": null, "axis": {"zindex": 1, "values": [0, 500, 1000, 1500, 2000, 2500, 3000], "labels": false, "gridColor": {"condition": {"test": "datum.value==0||datum.value==3000", "value": "transparent"}, "value": "#c4c4c4"}}}, "y2": {"datum": -544.7}}},
    {"data": {"values": [{"part": "border"}]}, "mark": {"type": "rect", "fill": null, "stroke": "#000000", "strokeWidth": 2, "strokeDash": [926.5, 400]},
     "encoding": {"x": {"datum": -8.2, "type": "quantitative", "scale": {"domain": [0, 2500], "nice": false, "zero": false}, "title": "Time", "axis": {"zindex": 1, "values": [0, 500, 1000, 1500, 2000, 2500], "format": "~r", "labelOverlap": false, "titlePadding": 7, "gridColor": {"condition": {"test": "datum.value==0||datum.value==2500", "value": "transparent"}, "value": "#c4c4c4"}}}, "x2": {"datum": 2730.3},
      "y": {"datum": 3568.4, "type": "quantitative", "scale": {"domain": [0, 3000], "nice": false, "zero": false}, "title": null, "axis": {"zindex": 1, "values": [0, 500, 1000, 1500, 2000, 2500, 3000], "labels": false, "gridColor": {"condition": {"test": "datum.value==0||datum.value==3000", "value": "transparent"}, "value": "#c4c4c4"}}}, "y2": {"datum": -544.7}}},
    {"data": {"values": [{"part": "plot"}]}, "mark": {"type": "rect", "fill": "#ffffff", "stroke": "#000000", "strokeWidth": 2},
     "encoding": {"x": {"datum": 0, "type": "quantitative", "scale": {"domain": [0, 2500], "nice": false, "zero": false}, "title": "Time", "axis": {"zindex": 1, "values": [0, 500, 1000, 1500, 2000, 2500], "format": "~r", "labelOverlap": false, "titlePadding": 7, "gridColor": {"condition": {"test": "datum.value==0||datum.value==2500", "value": "transparent"}, "value": "#c4c4c4"}}}, "x2": {"datum": 2500},
      "y": {"datum": 3000, "type": "quantitative", "scale": {"domain": [0, 3000], "nice": false, "zero": false}, "title": null, "axis": {"zindex": 1, "values": [0, 500, 1000, 1500, 2000, 2500, 3000], "labels": false, "gridColor": {"condition": {"test": "datum.value==0||datum.value==3000", "value": "transparent"}, "value": "#c4c4c4"}}}, "y2": {"datum": 0}}},
    {"data": {"name": "rsh"}, "mark": {"type": "line"},
     "encoding": {
      "x": {"field": "t", "type": "quantitative", "scale": {"domain": [0, 2500], "nice": false, "zero": false}, "title": "Time", "axis": {"zindex": 1, "values": [0, 500, 1000, 1500, 2000, 2500], "format": "~r", "labelOverlap": false, "titlePadding": 7, "gridColor": {"condition": {"test": "datum.value==0||datum.value==2500", "value": "transparent"}, "value": "#c4c4c4"}}},
      "y": {"field": "v", "type": "quantitative", "scale": {"domain": [0, 3000], "nice": false, "zero": false}, "title": null, "axis": {"zindex": 1, "values": [0, 500, 1000, 1500, 2000, 2500, 3000], "labels": false, "gridColor": {"condition": {"test": "datum.value==0||datum.value==3000", "value": "transparent"}, "value": "#c4c4c4"}}},
      "color": {"field": "g", "type": "nominal", "scale": {"domain": ["Top", "Average", "Bottom"], "range": ["#22a34a", "#ee1c24", "#1f74c4"]}, "legend": null},
      "strokeWidth": {"field": "g", "type": "nominal", "scale": {"type": "ordinal", "domain": ["Top", "Average", "Bottom"], "range": [2, 3.5, 2]}, "legend": null}}}
   ]}
 ]}
]}
],
"config": {
 "view": {"stroke": null, "fill": null},
 "font": "Liberation Sans",
 "axis": {"domain": false, "grid": true, "gridColor": "#c4c4c4", "gridWidth": 1, "labelFont": "Liberation Sans", "labelFontSize": 4.5, "labelColor": "#333333", "labelFlush": false, "titleFont": "Noto Sans CJK KR", "titleFontSize": 18, "titleFontWeight": "normal", "titleColor": "#111111"},
 "axisX": {"ticks": false, "labelPadding": 4, "titlePadding": 14},
 "axisY": {"ticks": true, "tickSize": 3, "tickColor": "#777777", "tickWidth": 1, "labelPadding": 2, "titlePadding": 20},
 "title": {"font": "Lato", "fontSize": 21, "fontWeight": "bold", "color": "#000000", "frame": "group", "anchor": "middle", "offset": -29, "zindex": 1},
 "line": {"strokeJoin": "round", "strokeCap": "round"}
}
}
